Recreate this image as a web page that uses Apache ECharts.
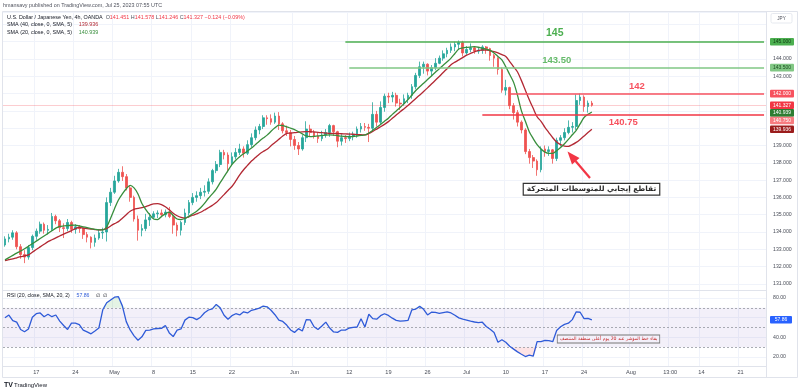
<!DOCTYPE html>
<html><head><meta charset="utf-8">
<script src="https://cdn.jsdelivr.net/npm/echarts@6/dist/echarts.min.js"></script>
<style>html,body{margin:0;padding:0;background:#fff}#c{width:800px;height:392px}</style>
</head><body><div id="c"></div>
<script>
// ---- DATA (12h bars, USD/JPY, Apr 11 – Jul 25 2023) ----
const opens = [
133.25,133.60,133.70,133.95,133.15,132.70,132.55,133.10,133.75,134.05,
134.45,134.10,134.15,134.90,134.65,134.25,134.20,134.55,134.15,134.30,
134.20,133.85,133.70,133.40,133.65,133.95,134.00,135.70,136.30,136.95,
137.45,137.20,136.55,136.00,134.75,134.10,134.20,134.70,134.85,135.05,
135.10,135.00,135.15,134.90,134.40,134.10,134.55,135.10,135.70,136.00,
136.10,136.30,136.35,136.90,137.55,137.90,138.60,138.45,137.95,138.35,
138.60,138.80,138.55,139.05,139.45,139.90,140.10,140.60,140.55,140.35,
140.70,140.25,139.85,139.75,139.35,139.00,138.80,139.45,139.95,139.75,
139.55,139.40,139.60,139.75,140.15,139.80,139.25,139.45,139.40,139.55,
139.60,139.95,140.10,140.05,140.00,140.80,140.35,141.20,141.85,141.80,
141.90,141.45,141.40,141.70,141.90,142.40,143.05,143.55,143.70,143.30,
143.50,143.75,144.05,144.30,144.50,144.70,144.85,144.95,144.35,144.55,
144.65,144.45,144.50,144.70,144.60,144.20,144.05,143.40,142.20,142.35,
141.30,140.90,140.35,139.90,138.65,138.30,138.10,137.60,138.80,138.65,
138.75,138.25,139.30,139.45,139.75,140.05,140.10,141.60,141.80,141.25,
141.451];
const closes = [
133.60,133.70,133.95,133.15,132.70,132.55,133.10,133.75,134.05,134.45,
134.10,134.15,134.90,134.65,134.25,134.20,134.55,134.15,134.30,134.20,
133.85,133.70,133.40,133.65,133.95,134.00,135.70,136.30,136.95,137.45,
137.20,136.55,136.00,134.75,134.10,134.20,134.70,134.85,135.05,135.10,
135.00,135.15,134.90,134.40,134.10,134.55,135.10,135.70,136.00,136.10,
136.30,136.35,136.90,137.55,137.90,138.60,138.45,137.95,138.35,138.60,
138.80,138.55,139.05,139.45,139.90,140.10,140.60,140.55,140.35,140.70,
140.25,139.85,139.75,139.35,139.00,138.80,139.45,139.95,139.75,139.55,
139.40,139.60,139.75,140.15,139.80,139.25,139.45,139.40,139.55,139.60,
139.95,140.10,140.05,140.00,140.80,140.35,141.20,141.85,141.80,141.90,
141.45,141.40,141.70,141.90,142.40,143.05,143.55,143.70,143.30,143.50,
143.75,144.05,144.30,144.50,144.70,144.85,144.95,144.35,144.55,144.65,
144.45,144.50,144.70,144.60,144.20,144.05,143.40,142.20,142.35,141.30,
140.90,140.35,139.90,138.65,138.30,138.10,137.60,138.80,138.65,138.75,
138.25,139.30,139.45,139.75,140.05,140.10,141.60,141.80,141.25,141.45,
141.327];
const lows = [
133.15,133.40,133.55,133.00,132.45,132.20,132.40,132.95,133.55,133.90,
133.90,133.85,134.05,134.45,134.00,133.65,134.05,133.95,133.90,133.95,
133.60,133.40,133.05,133.15,133.55,133.60,133.45,135.50,136.20,136.85,
136.95,136.40,135.75,134.60,133.50,133.75,134.05,134.35,134.75,134.80,
134.85,134.85,134.80,133.90,133.75,133.80,134.40,134.95,135.55,135.75,
135.90,136.05,136.20,136.75,137.40,137.75,138.20,137.45,137.80,138.20,
138.45,138.30,138.45,138.90,139.30,139.65,139.95,140.20,140.20,140.25,
139.90,139.70,139.55,138.95,138.75,138.45,138.70,139.20,139.50,139.40,
139.15,139.25,139.45,139.50,139.55,138.90,139.00,139.15,139.25,139.30,
139.45,139.75,139.85,139.20,139.85,140.10,140.20,140.95,141.45,141.50,
141.25,141.05,141.30,141.45,141.70,142.25,142.90,143.15,143.05,143.00,
143.35,143.70,143.90,144.10,144.35,144.45,144.55,144.15,144.25,144.40,
144.30,144.30,144.30,144.30,143.90,143.55,143.10,142.05,141.90,141.10,
140.50,140.10,139.70,138.50,137.95,137.70,137.25,137.45,138.35,138.40,
137.95,138.10,138.95,139.30,139.65,139.75,139.90,141.35,140.95,140.90,
141.246];
const highs = [
133.75,133.90,134.10,134.05,133.30,132.95,133.25,133.85,134.20,134.60,
134.55,134.40,135.10,135.00,134.75,134.50,134.75,134.65,134.45,134.40,
134.25,134.00,133.75,133.85,134.15,134.25,136.00,136.55,137.25,137.65,
137.80,137.35,136.70,136.10,134.95,134.45,135.05,135.10,135.20,135.25,
135.30,135.30,135.45,135.00,134.55,134.65,135.35,135.85,136.25,136.35,
136.55,136.70,137.10,137.65,138.10,138.75,138.75,138.60,138.60,138.85,
139.10,138.95,139.30,139.70,140.10,140.25,140.75,140.75,140.80,140.90,
140.93,140.35,140.15,139.90,139.55,139.20,139.60,140.40,140.20,139.90,
139.75,139.85,139.95,140.25,140.20,139.85,139.65,139.60,139.75,139.80,
140.10,140.30,140.30,140.25,141.50,141.00,141.55,142.00,142.05,142.10,
142.05,141.70,141.95,142.05,142.55,143.20,143.85,143.85,143.75,143.65,
144.05,144.20,144.50,144.65,144.90,145.00,145.07,145.05,144.75,144.90,
144.70,144.65,144.80,144.75,144.65,144.30,144.10,143.50,142.80,142.40,
141.45,141.05,140.45,140.00,138.80,138.45,138.20,138.95,139.00,138.95,
138.80,139.45,139.60,140.00,140.45,140.35,141.95,142.00,141.90,141.60,
141.578];
const sma40 = [
132.35,132.40,132.45,132.51,132.57,132.62,132.68,132.83,132.99,133.14,
133.29,133.44,133.55,133.66,133.77,133.88,133.98,134.08,134.20,134.26,
134.23,134.20,134.17,134.14,134.12,134.14,134.20,134.35,134.48,134.60,
134.80,135.00,135.20,135.31,135.36,135.41,135.47,135.55,135.63,135.64,
135.58,135.46,135.28,135.08,134.94,134.84,134.80,134.88,134.97,135.05,
135.14,135.27,135.40,135.54,135.70,135.93,136.16,136.40,136.63,136.95,
137.30,137.60,137.85,138.10,138.30,138.50,138.65,138.78,138.98,139.17,
139.36,139.55,139.70,139.72,139.75,139.77,139.79,139.80,139.80,139.78,
139.76,139.74,139.72,139.70,139.70,139.69,139.68,139.67,139.66,139.65,
139.63,139.62,139.61,139.70,139.82,139.95,140.08,140.22,140.38,140.57,
140.76,140.95,141.13,141.31,141.51,141.72,141.92,142.12,142.33,142.55,
142.77,142.99,143.22,143.44,143.67,143.82,143.95,144.08,144.22,144.32,
144.42,144.50,144.52,144.52,144.48,144.43,144.35,144.25,144.15,143.85,
143.55,143.25,142.75,142.20,141.65,141.15,140.66,140.40,140.05,139.75,
139.45,139.20,139.05,138.97,138.95,139.05,139.18,139.35,139.55,139.75,
139.936];
const sma20 = [
132.39,132.52,132.65,132.78,132.90,133.03,133.17,133.32,133.47,133.62,
133.77,133.92,134.07,134.22,134.32,134.35,134.37,134.39,134.40,134.35,
134.30,134.25,134.20,134.15,134.12,134.12,134.30,134.80,135.35,135.85,
136.20,136.50,136.70,136.55,136.20,135.65,135.30,135.00,134.75,134.72,
134.90,135.05,135.15,134.95,134.75,134.72,134.78,134.90,135.05,135.20,
135.40,135.65,135.95,136.20,136.48,136.85,137.20,137.55,137.90,138.15,
138.35,138.52,138.68,138.85,139.05,139.25,139.43,139.60,139.82,140.02,
140.18,140.15,140.08,140.00,139.92,139.80,139.67,139.55,139.51,139.53,
139.56,139.58,139.60,139.61,139.60,139.57,139.54,139.52,139.51,139.52,
139.55,139.58,139.61,139.72,139.88,140.05,140.22,140.40,140.58,140.80,
141.00,141.20,141.42,141.65,141.92,142.18,142.40,142.60,142.81,143.02,
143.23,143.43,143.64,143.84,144.05,144.32,144.58,144.64,144.67,144.69,
144.71,144.68,144.62,144.57,144.50,144.35,144.15,143.95,143.55,143.10,
142.65,141.90,141.00,140.40,139.80,139.40,139.05,138.80,138.62,138.55,
138.55,138.70,138.88,139.10,139.35,139.62,139.88,140.25,140.62,140.80,
140.939];
const rsi = [
60.0,62.7,57.0,55.5,48.0,45.7,48.5,60.5,64.0,64.8,
61.0,63.5,61.0,62.7,56.5,52.0,48.0,54.5,54.5,53.0,
47.4,45.5,43.6,46.5,49.5,68.0,75.2,78.0,80.8,81.3,
72.0,56.0,47.5,41.5,37.0,40.5,47.0,47.4,48.5,49.0,
49.1,52.0,44.5,40.8,47.4,48.5,57.5,60.5,60.0,58.0,
60.5,65.0,67.8,69.0,73.5,70.0,62.5,58.4,62.0,64.0,
62.8,66.0,64.8,67.5,68.5,69.8,71.8,71.0,67.5,63.0,
57.6,56.2,52.5,47.5,45.0,48.8,46.5,58.0,57.8,50.8,
48.0,51.5,55.5,49.5,45.5,45.0,47.4,47.4,49.5,50.2,
50.5,59.0,50.5,63.5,59.0,58.5,62.0,64.0,62.3,59.5,
57.3,56.4,56.8,57.2,68.0,68.8,71.5,68.5,62.8,65.5,
65.3,64.4,65.2,66.0,64.8,62.5,59.8,58.5,57.6,56.4,
55.6,55.0,55.4,51.0,48.3,45.0,35.0,37.5,35.0,31.0,
28.0,25.2,22.8,20.5,21.8,20.8,35.6,35.6,36.8,36.6,
35.6,47.0,50.8,53.2,54.4,58.0,66.0,65.5,59.0,59.3,
57.86];
const tickDays  = ['04-17','04-24','05-01','05-08','05-15','05-22','06-01','06-12','06-19','06-26','07-03','07-10','07-17','07-24','08-01','08-08','08-14','08-21'];
const tickTexts = ['17','24','May','8','15','22','Jun','12','19','26','Jul','10','17','24','Aug','13:00','14','21'];
const levelValues = [145, 143.5, 142, 140.75];
const levelTexts  = ['145', '143.50', '142', '140.75'];
const levelStartDays = ['06-09 PM','06-12 AM','07-10 PM','07-05 AM'];
const axisBoxes = [ // value, text
  [145.000,'145.000'],[143.500,'143.500'],[142.000,'142.000'],[141.327,'141.327'],
  [140.939,'140.939'],[140.750,'140.750'],[139.936,'139.936']];
const rsiLast = 57.86;

// ---- categories: trading days (no weekends), two 12h bars per day ----
const NCAT = 195;
const cats = [];
(function(){
  let t = Date.UTC(2023,3,11);
  while (cats.length < NCAT) {
    const d = new Date(t), wd = d.getUTCDay();
    if (wd !== 0 && wd !== 6) {
      const md = String(d.getUTCMonth()+1).padStart(2,'0') + '-' + String(d.getUTCDate()).padStart(2,'0');
      cats.push(md + ' AM'); if (cats.length < NCAT) cats.push(md + ' PM');
    }
    t += 86400000;
  }
})();
const tickMap = {};
tickDays.forEach((d,i)=>{ tickMap[d + ' AM'] = tickTexts[i]; });
const isTick = (idx, val) => tickMap[val] !== undefined;

const F = 'Liberation Sans, Arial, sans-serif';
const UP = '#26a69a', DN = '#ef5350';
const candle = opens.map((o,i)=>[o, closes[i], lows[i], highs[i]]);

const levelColors = ['#4caf50','#81c784','#f7525f','#f23645'];
const levelTextColors = ['#4caf50','#66bb6a','#f7525f','#f7525f'];
const levelFont = [10.5, 9.5, 9.5, 9.5];
const levelPos = ['insideMiddleTop','insideMiddleTop','insideMiddleTop','insideMiddleBottom'];
const levelDist = [3, 2, 2, 2];
const levelLines = levelValues.map((v,i)=>[
  {coord:[levelStartDays[i], v], lineStyle:{color:levelColors[i], width:1.5, type:'solid'},
   label:{show:true, formatter:levelTexts[i], position:levelPos[i], distance:levelDist[i],
          color:levelTextColors[i], fontSize:levelFont[i], fontWeight:'bold', fontFamily:F}},
  {coord:[cats[NCAT-1], v]}
]);

const chart = echarts.init(document.getElementById('c'));
const gridLine = {color:'#f0f3fa', width:1};
chart.setOption({
  animation:false,
  backgroundColor:'#ffffff',
  grid:[{left:3, top:12, width:763, height:278},{left:3, top:290, width:763, height:76}],
  xAxis:[
    {type:'category', data:cats, gridIndex:0, boundaryGap:true,
     axisLine:{show:true, lineStyle:{color:'#e0e3eb'}}, axisTick:{show:false, interval:isTick, alignWithLabel:true},
     axisLabel:{show:false, interval:isTick}, splitLine:{show:true, interval:isTick, lineStyle:gridLine}},
    {type:'category', data:cats, gridIndex:1, boundaryGap:true,
     axisLine:{show:true, lineStyle:{color:'#e0e3eb'}}, axisTick:{show:false, interval:isTick, alignWithLabel:true},
     axisLabel:{interval:isTick, formatter:(v)=>tickMap[v]||'', color:'#4a4e59', fontSize:5.6, fontFamily:F, margin:3.5},
     splitLine:{show:true, interval:isTick, lineStyle:gridLine}}
  ],
  yAxis:[
    {type:'value', gridIndex:0, position:'right', min:130.647, max:146.717, splitNumber:16, scale:true,
     axisLine:{show:false}, axisTick:{show:false},
     axisLabel:{showMinLabel:false, showMaxLabel:false, color:'#4a4e59', fontSize:5.2, fontFamily:F, margin:7,
       formatter:(v)=>{const r=Math.round(v); if(Math.abs(v-r)>1e-6) return ''; if([146,145,142,141,140].includes(r)) return ''; return r.toFixed(3);}},
     splitLine:{show:true, lineStyle:gridLine}},
    {type:'value', gridIndex:1, position:'right', min:10.85, max:88.14, splitNumber:4, scale:true,
     axisLine:{show:false}, axisTick:{show:false},
     axisLabel:{showMinLabel:false, showMaxLabel:false, color:'#4a4e59', fontSize:5.2, fontFamily:F, margin:7,
       formatter:(v)=>{const r=Math.round(v); if(Math.abs(v-r)>1e-6) return ''; if(r===60) return ''; return r.toFixed(2);}},
     splitLine:{show:true, lineStyle:gridLine}}
  ],
  series:[
    {type:'candlestick', name:'USDJPY', xAxisIndex:0, yAxisIndex:0, data:candle, barWidth:2.2,
     itemStyle:{color:UP, color0:DN, borderColor:UP, borderColor0:DN, borderWidth:0.8},
     markLine:{silent:true, symbol:'none', animation:false,
       data:[...levelLines,
         {yAxis:closes[closes.length-1], lineStyle:{color:'rgba(242,54,69,0.25)', width:1, type:'solid'}, label:{show:false}}]}},
    {type:'line', name:'SMA40', xAxisIndex:0, yAxisIndex:0, data:sma40, symbol:'none', smooth:0.3,
     lineStyle:{color:'#b22833', width:1.3}, z:3},
    {type:'line', name:'SMA20', xAxisIndex:0, yAxisIndex:0, data:sma20, symbol:'none', smooth:0.3,
     lineStyle:{color:'#388e3c', width:1.3}, z:4},
    // overbought / oversold shading helpers (derived from rsi)
    {type:'line', xAxisIndex:1, yAxisIndex:1, stack:'ob', data:rsi.map(()=>70), symbol:'none', lineStyle:{opacity:0}, silent:true},
    {type:'line', xAxisIndex:1, yAxisIndex:1, stack:'ob', data:rsi.map(v=>Math.max(v-70,0)), symbol:'none', lineStyle:{opacity:0},
     areaStyle:{color:'rgba(76,175,80,0.22)'}, silent:true},
    {type:'line', xAxisIndex:1, yAxisIndex:1, stack:'os', data:rsi.map(v=>Math.min(v,30)), symbol:'none', lineStyle:{opacity:0}, silent:true},
    {type:'line', xAxisIndex:1, yAxisIndex:1, stack:'os', data:rsi.map(v=>30-Math.min(v,30)), symbol:'none', lineStyle:{opacity:0},
     areaStyle:{color:'rgba(242,54,69,0.2)'}, silent:true},
    {type:'line', name:'RSI', xAxisIndex:1, yAxisIndex:1, data:rsi, symbol:'none',
     lineStyle:{color:'#2f5bd8', width:1.3}, z:5,
     markArea:{silent:true, itemStyle:{color:'rgba(126,87,194,0.09)'}, data:[[{yAxis:70},{yAxis:30}]]},
     markLine:{silent:true, symbol:'none', label:{show:false},
       lineStyle:{color:'#9598a1', type:[2,2], width:0.8}, data:[{yAxis:70},{yAxis:50},{yAxis:30}]}}
  ]
});

// ---- overlay texts, axis boxes and annotations ----
const g = [];
const T = (x,y,text,o,z)=>g.push({type:'text', x, y, z:(z||110), silent:true,
  style:Object.assign({text, fontFamily:F, fontSize:5.4, fill:'#131722', align:'left', verticalAlign:'middle'}, (o||{}).style||{})});
// frame
g.push({type:'rect', z:90, silent:true, shape:{x:2.5,y:11.5,width:795,height:366}, style:{fill:'none', stroke:'#e0e3eb', lineWidth:1}});
g.push({type:'line', z:90, silent:true, shape:{x1:766.5,y1:12,x2:766.5,y2:377}, style:{stroke:'#e0e3eb', lineWidth:1}});
// header & legends
T(3, 6, 'hmansavy published on TradingView.com, Jul 25, 2023 07:55 UTC', {style:{fill:'#50535e', fontSize:5.4}});
g.push({type:'text', x:7, y:17.3, z:110, silent:true, style:{
  text:'{t|U.S. Dollar / Japanese Yen, 4h, OANDA}  {g|O}{r|141.451} {g|H}{r|141.578} {g|L}{r|141.246} {g|C}{r|141.327} {r|\u22120.124 (\u22120.09%)}',
  fontFamily:F, fontSize:5.4, verticalAlign:'middle', align:'left',
  rich:{t:{fill:'#131722', fontSize:5.4, fontFamily:F}, g:{fill:'#50535e', fontSize:5.4, fontFamily:F}, r:{fill:'#f23645', fontSize:5.4, fontFamily:F}}}});
g.push({type:'text', x:7, y:24.8, z:110, silent:true, style:{text:'{t|SMA (40, close, 0, SMA, 5)}  {v|139.936}', verticalAlign:'middle',
  rich:{t:{fill:'#131722', fontSize:5.4, fontFamily:F}, v:{fill:'#b22833', fontSize:5.4, fontFamily:F}}}});
g.push({type:'text', x:7, y:32.6, z:110, silent:true, style:{text:'{t|SMA (20, close, 0, SMA, 5)}  {v|140.939}', verticalAlign:'middle',
  rich:{t:{fill:'#131722', fontSize:5.4, fontFamily:F}, v:{fill:'#388e3c', fontSize:5.4, fontFamily:F}}}});
g.push({type:'text', x:7, y:295.8, z:110, silent:true, style:{text:'{t|RSI (20, close, SMA, 20, 2)}  {v|57.86}  {t|\u2205  \u2205}', verticalAlign:'middle',
  rich:{t:{fill:'#131722', fontSize:5.2, fontFamily:F}, v:{fill:'#2f5bd8', fontSize:5.2, fontFamily:F}}}});
// JPY box
g.push({type:'rect', z:100, silent:true, shape:{x:771,y:13.5,width:21,height:9.5,r:1.5}, style:{fill:'#fff', stroke:'#e0e3eb', lineWidth:0.8}});
T(781.5, 18.3, 'JPY', {style:{fill:'#50535e', fontSize:4.6, align:'center'}});
// price boxes
const boxBg = ['#4caf50','#81c784','#f7525f','#f23645','#2e7d32','#f77c80','#9b1c1c'];
const boxFg = ['#0d3b12','#1b4d20','#fff','#fff','#fff','#fff','#fff'];
let prevY = -100;
axisBoxes.forEach(([v,txt],i)=>{
  let y = chart.convertToPixel({yAxisIndex:0}, v);
  if (y < prevY + 7.6) y = prevY + 7.6;
  prevY = y;
  g.push({type:'rect', z:101, silent:true, shape:{x:770,y:y-3.8,width:24,height:7.6,r:1}, style:{fill:boxBg[i]}});
  T(782, y+0.2, txt, {style:{fill:boxFg[i], fontSize:5.0, align:'center'}}, 120);
});
{
  const y = chart.convertToPixel({yAxisIndex:1}, rsiLast);
  g.push({type:'rect', z:101, silent:true, shape:{x:770,y:y-3.8,width:22,height:7.6,r:1}, style:{fill:'#2962ff'}});
  T(781, y+0.2, '57.86', {style:{fill:'#fff', fontSize:5.0, align:'center'}}, 120);
}
// arrow annotation
g.push({type:'line', z:102, silent:true, shape:{x1:590,y1:178,x2:575.5,y2:161}, style:{stroke:'#f23645', lineWidth:2.2}});
g.push({type:'polygon', z:102, silent:true, shape:{points:[[567.5,151.5],[579.5,158.0],[572.0,164.5]]}, style:{fill:'#f23645'}});
g.push({type:'text', x:591.5, y:189.3, z:102, silent:true, style:{text:'تقاطع إيجابي للمتوسطات المتحركة',
  fontFamily:'DejaVu Sans, sans-serif', fontSize:7.4, fontWeight:'bold', fill:'#2a2a2a', align:'center', verticalAlign:'middle',
  backgroundColor:'#ffffff', borderColor:'#333', borderWidth:1.2, padding:[2,3,1.5,3]}});
g.push({type:'text', x:608.5, y:339, z:102, silent:true, style:{text:'بقاء خط المؤشر عند 20 يوم أعلى منطقة المنتصف',
  fontFamily:'DejaVu Sans, sans-serif', fontSize:4.6, fill:'#c62828', align:'center', verticalAlign:'middle',
  backgroundColor:'#f3f0fa', borderColor:'#777', borderWidth:0.8, padding:[1.2,2,1,2]}});
// logo
T(4, 385, 'TV', {style:{fill:'#131722', fontSize:7, fontWeight:'bold'}});
T(14, 385, 'TradingView', {style:{fill:'#131722', fontSize:6}});
chart.setOption({graphic:g});
</script></body></html>
